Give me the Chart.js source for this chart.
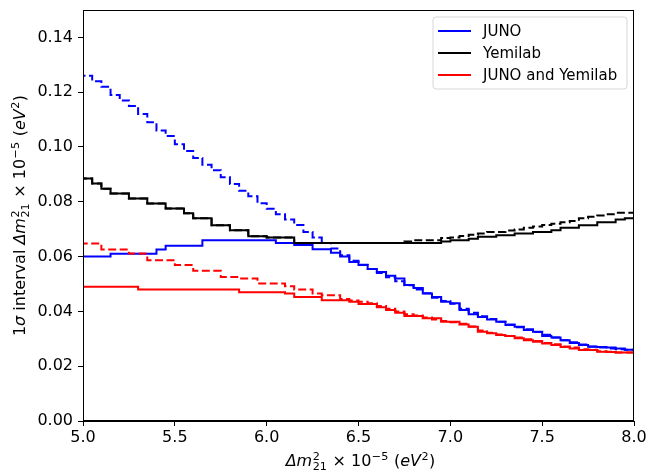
<!DOCTYPE html>
<html>
<head>
<meta charset="utf-8">
<script src="https://cdn.jsdelivr.net/npm/chart.js@4.4.0/dist/chart.umd.min.js"></script>
<style>
  html, body { margin: 0; padding: 0; background: #fff; }
  #wrap { width: 649px; height: 473px; }
</style>
</head>
<body>
<div id="wrap"><canvas id="chart" width="649" height="473"></canvas></div>
<script>
// Δm²21 grid (x 10^-5 eV²)
const massValues = [
  5.00, 5.05, 5.10, 5.15, 5.20, 5.25, 5.30, 5.35, 5.40, 5.45, 5.50, 5.55, 5.60, 5.65, 5.70, 5.75, 5.80, 5.85, 5.90, 5.95,
  6.00, 6.05, 6.10, 6.15, 6.20, 6.25, 6.30, 6.35, 6.40, 6.45, 6.50, 6.55, 6.60, 6.65, 6.70, 6.75, 6.80, 6.85, 6.90, 6.95,
  7.00, 7.05, 7.10, 7.15, 7.20, 7.25, 7.30, 7.35, 7.40, 7.45, 7.50, 7.55, 7.60, 7.65, 7.70, 7.75, 7.80, 7.85, 7.90, 7.95,
  8.00
];

// 1 sigma interval, solid curves
const junoSolid = [
  0.060, 0.060, 0.060, 0.060, 0.061, 0.061, 0.061, 0.061, 0.061, 0.0626, 0.064, 0.064, 0.064, 0.064, 0.066, 0.066, 0.066, 0.066, 0.066, 0.066,
  0.066, 0.066, 0.065, 0.065, 0.0642, 0.0642, 0.0627, 0.0627, 0.0614, 0.060, 0.058, 0.0569, 0.0555, 0.0544, 0.053, 0.052, 0.0496, 0.0485, 0.0465, 0.0453,
  0.0435, 0.043, 0.0405, 0.039, 0.038, 0.037, 0.0362, 0.035, 0.0344, 0.0332, 0.0326, 0.031, 0.0305, 0.0295, 0.0285, 0.0277, 0.0271, 0.027, 0.0268, 0.0265,
  0.026
];
const yemilabSolid = [
  0.090, 0.0885, 0.0867, 0.0848, 0.083, 0.083, 0.0812, 0.0812, 0.0794, 0.0794, 0.0776, 0.0776, 0.0758, 0.074, 0.074, 0.0714, 0.0714, 0.0696, 0.0696, 0.0674,
  0.0674, 0.067, 0.067, 0.067, 0.065, 0.065, 0.065, 0.065, 0.065, 0.065, 0.065, 0.065, 0.065, 0.065, 0.065, 0.065, 0.065, 0.065, 0.065, 0.065,
  0.0655, 0.066, 0.066, 0.0665, 0.0672, 0.0672, 0.0678, 0.0678, 0.0684, 0.0684, 0.069, 0.069, 0.0696, 0.0705, 0.0705, 0.0714, 0.0714, 0.0725, 0.0725, 0.0735,
  0.074
];
const combinedSolid = [
  0.049, 0.049, 0.049, 0.049, 0.049, 0.049, 0.049, 0.048, 0.048, 0.048, 0.048, 0.048, 0.048, 0.048, 0.048, 0.048, 0.048, 0.048, 0.047, 0.047,
  0.047, 0.047, 0.047, 0.0465, 0.0453, 0.0453, 0.0453, 0.0441, 0.0441, 0.0441, 0.0435, 0.0427, 0.0427, 0.0415, 0.0405, 0.0395, 0.0383, 0.0383, 0.0375, 0.0375,
  0.0362, 0.0362, 0.0352, 0.0344, 0.0326, 0.032, 0.0314, 0.031, 0.0302, 0.0295, 0.0289, 0.0283, 0.0277, 0.027, 0.0265, 0.0259, 0.0259, 0.0253, 0.0252, 0.025,
  0.025
];

// dashed curves
const junoDashed = [
  0.128, 0.126, 0.124, 0.122, 0.119, 0.117, 0.115, 0.112, 0.109, 0.106, 0.104, 0.101, 0.0985, 0.096, 0.0935, 0.0915, 0.089, 0.0865, 0.084, 0.082,
  0.0795, 0.0775, 0.0755, 0.0735, 0.0715, 0.069, 0.067, 0.065, 0.063, 0.0605, 0.0585, 0.057, 0.0555, 0.054, 0.0525, 0.051, 0.0495, 0.048, 0.0466, 0.045,
  0.0438, 0.0428, 0.041, 0.0395, 0.0382, 0.0372, 0.0362, 0.0352, 0.0342, 0.0335, 0.0325, 0.0315, 0.0305, 0.0295, 0.0287, 0.0279, 0.0272, 0.0268, 0.0265, 0.0262,
  0.026
];
const yemilabDashed = [
  0.090, 0.0885, 0.0867, 0.0848, 0.083, 0.083, 0.0812, 0.0812, 0.0794, 0.0794, 0.0776, 0.0776, 0.0758, 0.074, 0.074, 0.0714, 0.0714, 0.0696, 0.0696, 0.0674,
  0.0674, 0.067, 0.067, 0.067, 0.065, 0.065, 0.065, 0.065, 0.065, 0.065, 0.065, 0.065, 0.065, 0.065, 0.065, 0.065, 0.0655, 0.066, 0.066, 0.066,
  0.0668, 0.067, 0.0675, 0.068, 0.0684, 0.069, 0.069, 0.0695, 0.0699, 0.0705, 0.071, 0.0715, 0.072, 0.0725, 0.073, 0.074, 0.0745, 0.075, 0.0755, 0.076,
  0.076
];
const combinedDashed = [
  0.066, 0.0648, 0.0648, 0.0626, 0.0626, 0.0626, 0.0611, 0.0611, 0.0587, 0.0587, 0.0587, 0.0569, 0.0569, 0.0548, 0.0548, 0.0548, 0.0526, 0.0526, 0.052, 0.052,
  0.0502, 0.0502, 0.0502, 0.0492, 0.048, 0.048, 0.0465, 0.0459, 0.0459, 0.0445, 0.044, 0.0435, 0.043, 0.042, 0.041, 0.040, 0.039, 0.0385, 0.0378, 0.037,
  0.0365, 0.036, 0.0355, 0.0345, 0.033, 0.0322, 0.0316, 0.031, 0.0305, 0.0298, 0.0292, 0.0285, 0.028, 0.0272, 0.0268, 0.0262, 0.026, 0.0255, 0.0253, 0.025,
  0.025
];

const legendLabels = ['JUNO', 'Yemilab', 'JUNO and Yemilab'];
const seriesColors = ['#0000ff', '#000000', '#ff0000'];
const xTickValues = [5.0, 5.5, 6.0, 6.5, 7.0, 7.5, 8.0];
const yTickValues = [0.00, 0.02, 0.04, 0.06, 0.08, 0.10, 0.12, 0.14];

const FONT = "'DejaVu Sans', 'Liberation Sans', sans-serif";

// axis titles with mathtext-like pieces
const massTitle = [
  { t: 'Δm', it: true },
  { sup: '2', sub: '21' },
  { t: ' × 10' },
  { sup: '−5' },
  { t: ' (' },
  { t: 'eV', it: true },
  { sup: '2' },
  { t: ')' }
];
const yTitle = [{ t: '1' }, { t: 'σ', it: true }, { t: ' interval ' }].concat(massTitle);

function toPoints(values) {
  return massValues.map((x, i) => ({ x: x, y: values[i] }));
}

function makeSet(label, values, color, dashed, order) {
  return {
    label: label,
    data: toPoints(values),
    borderColor: color,
    backgroundColor: color,
    borderWidth: 2,
    borderDash: dashed ? [8, 3.5] : [],
    stepped: 'after',
    pointRadius: 0,
    fill: false,
    order: order
  };
}

function drawMath(ctx, parts, xc, baseline, size) {
  const small = size * 0.7;
  let total = 0;
  const widths = parts.map(p => {
    let w;
    if (p.t !== undefined) {
      ctx.font = (p.it ? 'italic ' : '') + size + 'px ' + FONT;
      w = ctx.measureText(p.t).width;
    } else {
      ctx.font = small + 'px ' + FONT;
      w = Math.max(p.sup ? ctx.measureText(p.sup).width : 0, p.sub ? ctx.measureText(p.sub).width : 0) + 1;
    }
    total += w;
    return w;
  });
  let x = xc - total / 2;
  ctx.textAlign = 'left';
  ctx.textBaseline = 'alphabetic';
  parts.forEach((p, i) => {
    if (p.t !== undefined) {
      ctx.font = (p.it ? 'italic ' : '') + size + 'px ' + FONT;
      ctx.fillText(p.t, x, baseline);
    } else {
      ctx.font = small + 'px ' + FONT;
      if (p.sup) ctx.fillText(p.sup, x + 0.5, baseline - size * 0.38);
      if (p.sub) ctx.fillText(p.sub, x + 0.5, baseline + size * 0.28);
    }
    x += widths[i];
  });
}

const framePlugin = {
  id: 'frameAndLegend',
  afterDraw(chart) {
    const ctx = chart.ctx;
    const a = chart.chartArea;
    ctx.save();
    // full axes frame
    ctx.strokeStyle = '#000';
    ctx.lineWidth = 1;
    ctx.strokeRect(Math.round(a.left) + 0.5, Math.round(a.top) + 0.5,
      Math.round(a.right - a.left) - 1, Math.round(a.bottom - a.top) - 1);

    // legend box
    const bx = 433, by = 17, bw = 194, bh = 72, r = 3;
    ctx.beginPath();
    ctx.moveTo(bx + r, by);
    ctx.arcTo(bx + bw, by, bx + bw, by + bh, r);
    ctx.arcTo(bx + bw, by + bh, bx, by + bh, r);
    ctx.arcTo(bx, by + bh, bx, by, r);
    ctx.arcTo(bx, by, bx + bw, by, r);
    ctx.closePath();
    ctx.fillStyle = 'rgba(255,255,255,0.8)';
    ctx.fill();
    ctx.strokeStyle = '#d6d6d6';
    ctx.stroke();

    ctx.font = '15px ' + FONT;
    ctx.textAlign = 'left';
    ctx.textBaseline = 'middle';
    legendLabels.forEach((lab, i) => {
      const y = 31 + i * 22;
      ctx.strokeStyle = seriesColors[i];
      ctx.lineWidth = 2;
      ctx.beginPath();
      ctx.moveTo(438, y);
      ctx.lineTo(471, y);
      ctx.stroke();
      ctx.fillStyle = '#000';
      ctx.fillText(lab, 483, y + 1);
    });

    // axis titles
    ctx.fillStyle = '#000';
    drawMath(ctx, massTitle, (a.left + a.right) / 2 + 2, 466, 16);
    ctx.translate(25, (a.top + a.bottom) / 2);
    ctx.rotate(-Math.PI / 2);
    drawMath(ctx, yTitle, 0, 0, 16);
    ctx.restore();
  }
};

new Chart(document.getElementById('chart'), {
  type: 'line',
  data: {
    datasets: [
      makeSet('JUNO', junoSolid, seriesColors[0], false, 6),
      makeSet('', junoDashed, seriesColors[0], true, 5),
      makeSet('Yemilab', yemilabSolid, seriesColors[1], false, 4),
      makeSet('', yemilabDashed, seriesColors[1], true, 3),
      makeSet('JUNO and Yemilab', combinedSolid, seriesColors[2], false, 2),
      makeSet('', combinedDashed, seriesColors[2], true, 1)
    ]
  },
  options: {
    responsive: false,
    devicePixelRatio: 1,
    animation: false,
    layout: { padding: { top: 10, right: 15, left: 0, bottom: 0 } },
    plugins: {
      legend: { display: false },
      tooltip: { enabled: false }
    },
    scales: {
      x: {
        type: 'linear',
        min: 5,
        max: 8,
        afterBuildTicks: s => { s.ticks = xTickValues.map(v => ({ value: v })); },
        afterFit: s => { s.height = 52; s.paddingLeft = 0; s.paddingRight = 0; },
        ticks: {
          callback: v => v.toFixed(1),
          color: '#000',
          font: { family: FONT, size: 16 },
          padding: 2,
          maxRotation: 0
        },
        grid: { drawOnChartArea: false, drawTicks: true, tickLength: 5, color: '#000' },
        border: { display: true, color: '#000', width: 1 }
      },
      y: {
        min: 0,
        max: 0.15,
        afterBuildTicks: s => { s.ticks = yTickValues.map(v => ({ value: v })); },
        afterFit: s => { s.width = 83; s.paddingTop = 0; s.paddingBottom = 0; },
        ticks: {
          callback: v => v.toFixed(2),
          color: '#000',
          font: { family: FONT, size: 16 },
          padding: 5
        },
        grid: { drawOnChartArea: false, drawTicks: true, tickLength: 5, color: '#000' },
        border: { display: true, color: '#000', width: 1 }
      }
    }
  },
  plugins: [framePlugin]
});
</script>
</body>
</html>
